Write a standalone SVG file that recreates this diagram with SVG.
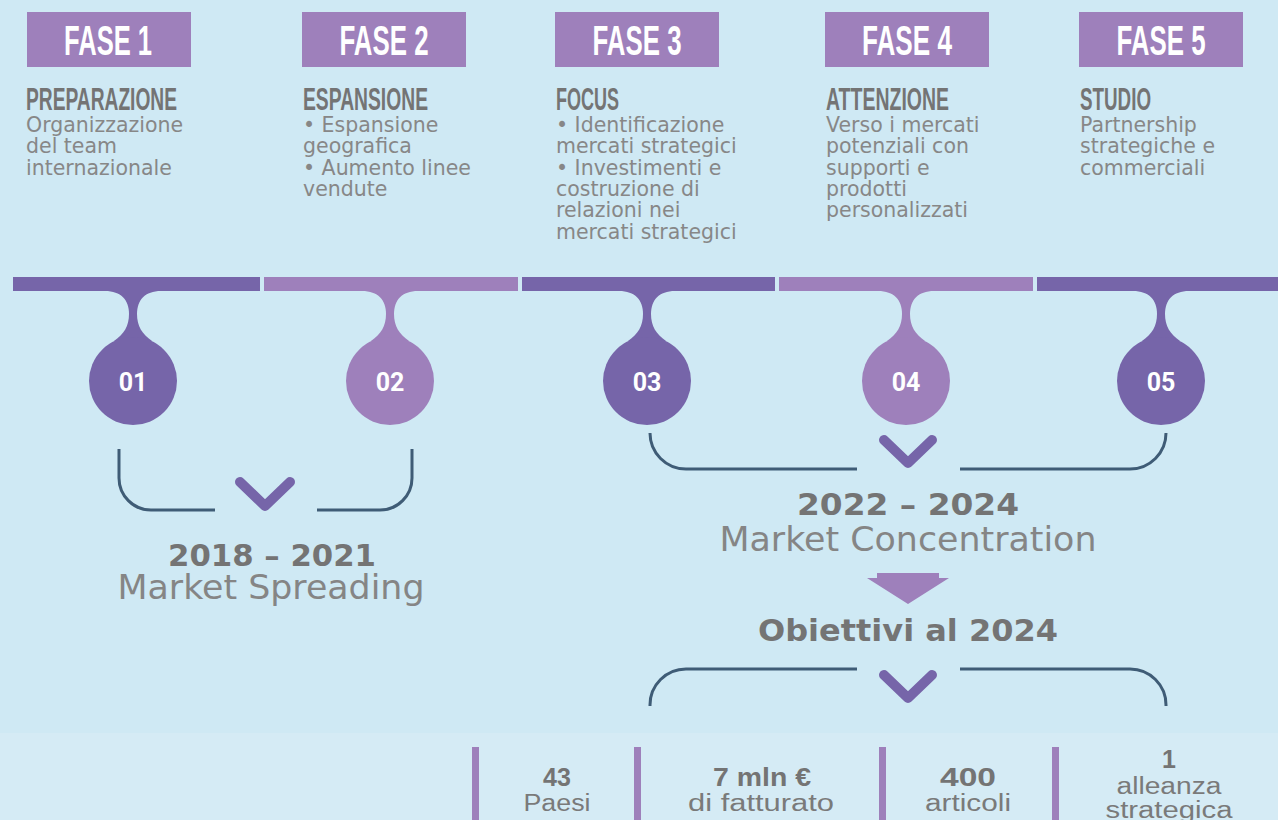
<svg xmlns="http://www.w3.org/2000/svg" width="1278" height="820" viewBox="0 0 1278 820">
<style>
.fbox{fill:#9e80bb}
.ft{font-family:"Liberation Sans",Arial,sans-serif;font-weight:700;font-size:42px;fill:#ffffff;text-anchor:middle}
.tt{font-family:"Liberation Sans",Arial,sans-serif;font-weight:700;font-size:31px;fill:#747474}
.bd{font-family:"DejaVu Sans",Verdana,sans-serif;font-size:20.5px;fill:#878787}
.dark{fill:#7665a9}
.light{fill:#9e80bb}
.num{font-family:Roboto,"Liberation Sans",sans-serif;font-weight:700;font-size:25px;fill:#ffffff;text-anchor:middle}
.brk{fill:none;stroke:#3f5c76;stroke-width:3}
.chev{fill:none;stroke:#7665a9;stroke-width:10;stroke-linecap:round;stroke-linejoin:round}
.yr{font-family:"DejaVu Sans",Verdana,sans-serif;font-weight:700;font-size:30px;fill:#747474;text-anchor:middle}
.lbl{font-family:"DejaVu Sans",Verdana,sans-serif;font-size:33px;fill:#858585;text-anchor:middle}
.sn{font-family:"Liberation Sans",Arial,sans-serif;font-weight:700;font-size:25px;fill:#747474;text-anchor:middle}
.sl{font-family:"Liberation Sans Narrow","Liberation Sans",Arial,sans-serif;font-size:23px;fill:#7a7a7a;text-anchor:middle}
.bar{fill:#9e80bb}
</style>
<rect x="0" y="0" width="1278" height="820" fill="#cfe9f4"/>
<rect x="0" y="733" width="1278" height="87" fill="#d5ebf5"/>

<g id="fase1">
<rect class="fbox" x="27" y="12" width="164" height="55"/>
<text class="ft" x="108" y="55" textLength="88" lengthAdjust="spacingAndGlyphs">FASE 1</text>
<text class="tt" x="26" y="110" textLength="151" lengthAdjust="spacingAndGlyphs">PREPARAZIONE</text>
<text class="bd"><tspan x="26" y="132">Organizzazione</tspan><tspan x="26" y="153.3">del team</tspan><tspan x="26" y="174.6">internazionale</tspan></text>
</g>
<g id="fase2">
<rect class="fbox" x="302" y="12" width="164" height="55"/>
<text class="ft" x="384" y="55" textLength="89" lengthAdjust="spacingAndGlyphs">FASE 2</text>
<text class="tt" x="303" y="110" textLength="125" lengthAdjust="spacingAndGlyphs">ESPANSIONE</text>
<text class="bd"><tspan x="303" y="132">• Espansione</tspan><tspan x="303" y="153.3">geografica</tspan><tspan x="303" y="174.6">• Aumento linee</tspan><tspan x="303" y="195.9">vendute</tspan></text>
</g>
<g id="fase3">
<rect class="fbox" x="555" y="12" width="164" height="55"/>
<text class="ft" x="637" y="55" textLength="89" lengthAdjust="spacingAndGlyphs">FASE 3</text>
<text class="tt" x="556" y="110" textLength="63" lengthAdjust="spacingAndGlyphs">FOCUS</text>
<text class="bd"><tspan x="556" y="132">• Identificazione</tspan><tspan x="556" y="153.3">mercati strategici</tspan><tspan x="556" y="174.6">• Investimenti e</tspan><tspan x="556" y="195.9">costruzione di</tspan><tspan x="556" y="217.2">relazioni nei</tspan><tspan x="556" y="238.5">mercati strategici</tspan></text>
</g>
<g id="fase4">
<rect class="fbox" x="825" y="12" width="164" height="55"/>
<text class="ft" x="907" y="55" textLength="90" lengthAdjust="spacingAndGlyphs">FASE 4</text>
<text class="tt" x="826" y="110" textLength="123" lengthAdjust="spacingAndGlyphs">ATTENZIONE</text>
<text class="bd"><tspan x="826" y="132">Verso i mercati</tspan><tspan x="826" y="153.3">potenziali con</tspan><tspan x="826" y="174.6">supporti e</tspan><tspan x="826" y="195.9">prodotti</tspan><tspan x="826" y="217.2">personalizzati</tspan></text>
</g>
<g id="fase5">
<rect class="fbox" x="1079" y="12" width="164" height="55"/>
<text class="ft" x="1161" y="55" textLength="89" lengthAdjust="spacingAndGlyphs">FASE 5</text>
<text class="tt" x="1080" y="110" textLength="71" lengthAdjust="spacingAndGlyphs">STUDIO</text>
<text class="bd"><tspan x="1080" y="132">Partnership</tspan><tspan x="1080" y="153.3">strategiche e</tspan><tspan x="1080" y="174.6">commerciali</tspan></text>
</g>

<g id="step01" class="dark">
<rect x="13" y="277" width="247" height="14"/>
<path d="M105,291 C121,291 129,300 129,314 C129,326 124,334 114,341 L152,341 C142,334 137,326 137,314 C137,300 145,291 161,291 Z"/>
<circle cx="133" cy="381" r="44"/>
<text class="num" x="133" y="391">01</text>
</g>
<g id="step02" class="light">
<rect x="264" y="277" width="254" height="14"/>
<path d="M362,291 C378,291 386,300 386,314 C386,326 381,334 371,341 L409,341 C399,334 394,326 394,314 C394,300 402,291 418,291 Z"/>
<circle cx="390" cy="381" r="44"/>
<text class="num" x="390" y="391">02</text>
</g>
<g id="step03" class="dark">
<rect x="522" y="277" width="253" height="14"/>
<path d="M619,291 C635,291 643,300 643,314 C643,326 638,334 628,341 L666,341 C656,334 651,326 651,314 C651,300 659,291 675,291 Z"/>
<circle cx="647" cy="381" r="44"/>
<text class="num" x="647" y="391">03</text>
</g>
<g id="step04" class="light">
<rect x="779" y="277" width="254" height="14"/>
<path d="M878,291 C894,291 902,300 902,314 C902,326 897,334 887,341 L925,341 C915,334 910,326 910,314 C910,300 918,291 934,291 Z"/>
<circle cx="906" cy="381" r="44"/>
<text class="num" x="906" y="391">04</text>
</g>
<g id="step05" class="dark">
<rect x="1037" y="277" width="241" height="14"/>
<path d="M1133,291 C1149,291 1157,300 1157,314 C1157,326 1152,334 1142,341 L1180,341 C1170,334 1165,326 1165,314 C1165,300 1173,291 1189,291 Z"/>
<circle cx="1161" cy="381" r="44"/>
<text class="num" x="1161" y="391">05</text>
</g>

<g id="connectors">
<path class="brk" d="M119,449 L119,478 A32,32 0 0 0 151,510 L215,510"/>
<path class="brk" d="M317,510 L380,510 A32,32 0 0 0 412,478 L412,449"/>
<path class="chev" d="M240,482 L265,506 L290,482"/>
<path class="brk" d="M650,433 A36,36 0 0 0 686,469 L857,469"/>
<path class="brk" d="M960,469 L1130,469 A36,36 0 0 0 1166,433"/>
<path class="chev" d="M884,440 L908,463 L932,440"/>
<path class="light" d="M877,573 L939,573 L939,578 L949,578 L908,604 L867,578 L877,578 Z"/>
<path class="brk" d="M650,706 L650,705 A36,36 0 0 1 686,669 L857,669"/>
<path class="brk" d="M960,669 L1130,669 A36,36 0 0 1 1166,705 L1166,706"/>
<path class="chev" d="M884,675 L908,698 L932,675"/>
</g>

<g id="period1">
<text class="yr" x="272" y="566" textLength="208" lengthAdjust="spacingAndGlyphs">2018 – 2021</text>
<text class="lbl" x="271" y="599" textLength="307" lengthAdjust="spacingAndGlyphs">Market Spreading</text>
</g>
<g id="period2">
<text class="yr" x="908" y="515" textLength="222" lengthAdjust="spacingAndGlyphs">2022 – 2024</text>
<text class="lbl" x="908" y="551" textLength="377" lengthAdjust="spacingAndGlyphs">Market Concentration</text>
</g>
<g id="obiettivi">
<text class="yr" x="908" y="641" textLength="300" lengthAdjust="spacingAndGlyphs">Obiettivi al 2024</text>
</g>

<g id="stats">
<rect class="bar" x="472" y="747" width="7" height="73"/>
<rect class="bar" x="634" y="747" width="7" height="73"/>
<rect class="bar" x="879" y="747" width="7" height="73"/>
<rect class="bar" x="1052" y="747" width="7" height="73"/>
<text class="sn" x="557" y="786">43</text>
<text class="sl" x="557" y="811" textLength="67" lengthAdjust="spacingAndGlyphs">Paesi</text>
<text class="sn" x="762" y="786" textLength="98" lengthAdjust="spacingAndGlyphs">7 mln €</text>
<text class="sl" x="761" y="811" textLength="146" lengthAdjust="spacingAndGlyphs">di fatturato</text>
<text class="sn" x="968" y="786" textLength="56" lengthAdjust="spacingAndGlyphs">400</text>
<text class="sl" x="968" y="811" textLength="86" lengthAdjust="spacingAndGlyphs">articoli</text>
<text class="sn" x="1169" y="768">1</text>
<text class="sl" x="1169" y="794" textLength="105" lengthAdjust="spacingAndGlyphs">alleanza</text>
<text class="sl" x="1169" y="818" textLength="127" lengthAdjust="spacingAndGlyphs">strategica</text>
</g>
</svg>
